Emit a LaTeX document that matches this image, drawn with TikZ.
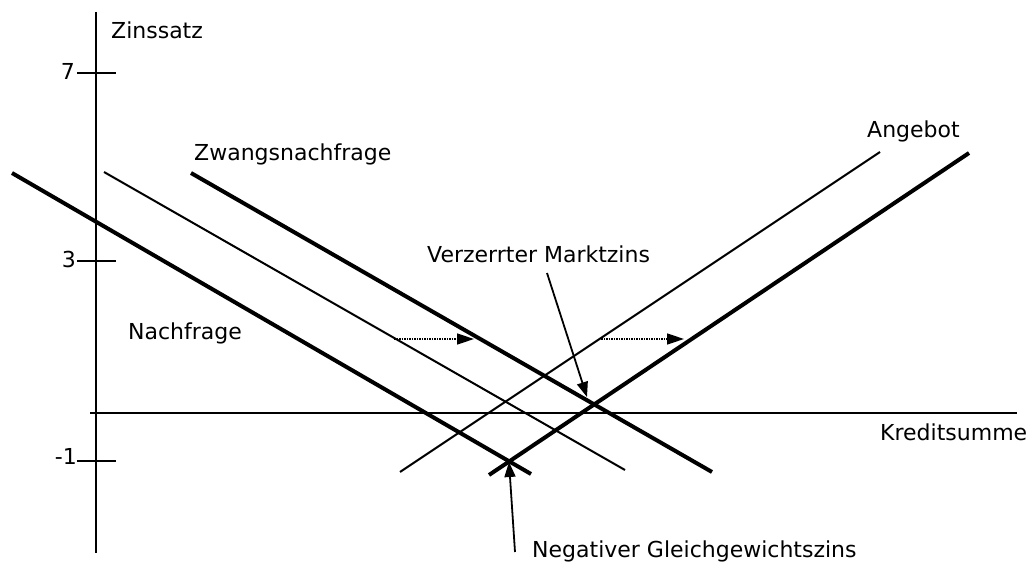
\documentclass[tikz,border=0pt]{standalone}
\usepackage{fontspec}
\setmainfont{DejaVu Sans}
\usetikzlibrary{arrows.meta}
\begin{document}
\begin{tikzpicture}[x=1pt,y=-1pt,
  lbl/.style={inner sep=0pt,font=\fontsize{22}{26}\selectfont},
  thickline/.style={line width=4pt},
  thinline/.style={line width=2pt},
  axis/.style={line width=1.8pt},
  shiftarrow/.style={densely dotted,line width=1.5pt,-{Triangle[length=17pt,width=11pt]}},
  pointer/.style={line width=1.8pt,-{Triangle[length=15pt,width=11pt]}}]
\useasboundingbox (0,0) rectangle (1029,564);
% axes
\coordinate (ytop) at (96,12);
\coordinate (ybot) at (96,553);
\coordinate (xl) at (90,413);
\coordinate (xr) at (1017,413);
\draw[axis] (ytop) -- (ybot);
\draw[axis] (xl) -- (xr);
% ticks
\coordinate (t7a) at (77,73); \coordinate (t7b) at (116,73);
\coordinate (t3a) at (77,261); \coordinate (t3b) at (116,261);
\coordinate (t1a) at (77,461); \coordinate (t1b) at (116,461);
\draw[axis] (t7a) -- (t7b);
\draw[axis] (t3a) -- (t3b);
\draw[axis] (t1a) -- (t1b);
\node[lbl,anchor=base east] (l7) at (75,80) {7};
\node[lbl,anchor=base east] (l3) at (76,268) {3};
\node[lbl,anchor=base east] (l1) at (77,464) {-1};
\node[lbl,anchor=base west] (zins) at (111,39) {Zinssatz};
\node[lbl,anchor=base west] (kredit) at (880,440) {Kreditsumme};
% curves
\coordinate (n1) at (12,173);  \coordinate (n2) at (531,474);
\coordinate (m1) at (104,172); \coordinate (m2) at (625,470);
\coordinate (z1) at (191,173); \coordinate (z2) at (712,472);
\coordinate (a1) at (400,472); \coordinate (a2) at (880,152);
\coordinate (b1) at (489,475); \coordinate (b2) at (969,153);
\draw[thickline] (n1) -- (n2);
\draw[thinline] (m1) -- (m2);
\draw[thickline] (z1) -- (z2);
\draw[thinline] (a1) -- (a2);
\draw[thickline] (b1) -- (b2);
% shift arrows
\coordinate (s1a) at (394,339); \coordinate (s1b) at (474,339);
\coordinate (s2a) at (601,339); \coordinate (s2b) at (684,339);
\draw[shiftarrow] (s1a) -- (s1b);
\draw[shiftarrow] (s2a) -- (s2b);
% labels
\node[lbl,anchor=base west] (nach) at (128,340) {Nachfrage};
\node[lbl,anchor=base west] (zwang) at (194,161) {Zwangsnachfrage};
\node[lbl,anchor=base west] (ang) at (867,138) {Angebot};
\node[lbl,anchor=base west] (verz) at (427,263) {Verzerrter Marktzins};
\node[lbl,anchor=base west] (neg) at (532,557) {Negativer Gleichgewichtszins};
% pointers
\coordinate (vfrom) at (547,273);
\coordinate (vto) at (587,397);
\coordinate (gfrom) at (515,552);
\coordinate (gto) at (509,462);
\draw[pointer] (vfrom) -- (vto);
\draw[pointer] (gfrom) -- (gto);
\end{tikzpicture}
\end{document}
